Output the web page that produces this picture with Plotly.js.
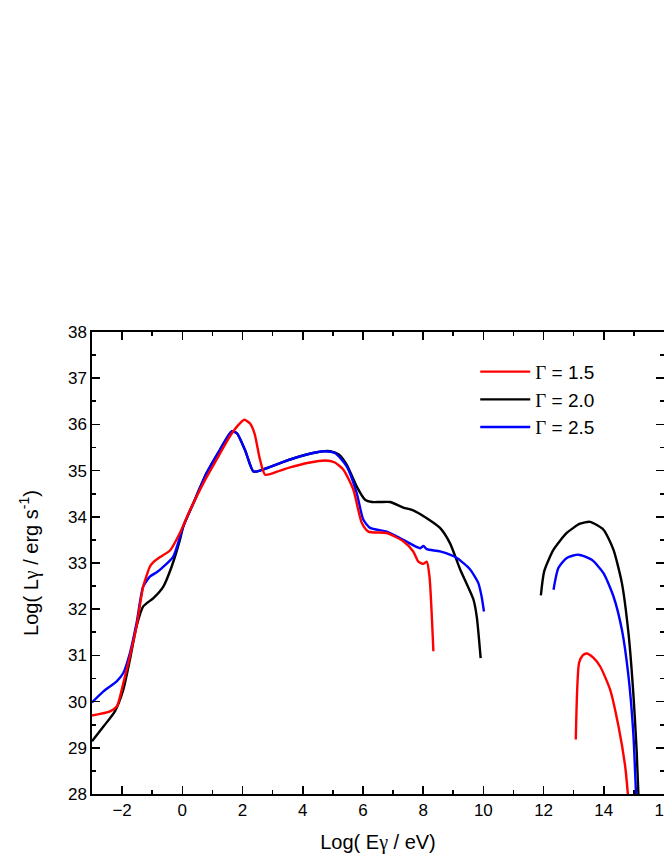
<!DOCTYPE html>
<html>
<head>
<meta charset="utf-8">
<script src="https://cdn.plot.ly/plotly-3.0.1.min.js"></script>
<style>html,body{margin:0;padding:0;background:#fff;overflow:hidden;}#wrap{width:664px;height:860px;overflow:hidden;}#chart{width:690px;height:860px;}</style>
</head>
<body>
<div id="wrap"><div id="chart"></div></div>
<script>
// Gamma = 1.5 (red)
const red1X = [-3, -2.4, -2.17, -1.96, -1.74, -1.52, -1.30, -1.07, -0.96, -0.74, -0.41, -0.08, 0.26, 0.70, 1.14, 1.58, 1.85, 2.06, 2.25, 2.40, 2.58, 2.75, 3.25, 3.58, 4.20, 4.75, 5.05, 5.35, 5.68, 5.96, 6.18, 6.79, 7.34, 7.67, 7.84, 8.01, 8.12, 8.21, 8.34];
const red1Y = [29.70, 29.79, 29.90, 30.40, 30.98, 31.63, 32.49, 32.93, 33.02, 33.13, 33.27, 33.65, 34.15, 34.73, 35.24, 35.74, 35.98, 36.10, 36.02, 35.80, 35.24, 34.91, 35.00, 35.07, 35.17, 35.22, 35.18, 35.02, 34.59, 33.87, 33.68, 33.65, 33.47, 33.25, 33.03, 32.98, 33.03, 32.71, 31.09];
const red2X = [13.07, 13.18, 13.30, 13.43, 13.65, 13.88, 14.21, 14.49, 14.71, 14.80];
const red2Y = [29.18, 30.84, 31.00, 31.04, 30.95, 30.76, 30.26, 29.46, 28.60, 28.00];

// Gamma = 2.0 (black)
const blk1X = [-3, -2.62, -2.24, -1.96, -1.74, -1.52, -1.30, -0.96, -0.63, -0.35, -0.08, 0.03, 0.37, 0.81, 1.25, 1.64, 1.81, 2.08, 2.36, 2.58, 3.25, 3.58, 4.20, 4.70, 4.91, 5.20, 5.46, 5.79, 6.07, 6.30, 6.57, 6.90, 7.34, 7.67, 8.12, 8.56, 8.89, 9.23, 9.67, 9.78, 9.91];
const blk1Y = [29.14, 29.46, 29.79, 30.26, 30.91, 31.63, 32.06, 32.24, 32.49, 32.93, 33.50, 33.79, 34.30, 34.95, 35.45, 35.85, 35.81, 35.45, 34.98, 35.00, 35.16, 35.24, 35.36, 35.42, 35.42, 35.35, 35.13, 34.66, 34.37, 34.32, 34.32, 34.32, 34.20, 34.14, 33.97, 33.76, 33.43, 32.86, 32.21, 31.84, 30.94];
const blk2X = [11.91, 12.02, 12.33, 12.77, 13.21, 13.54, 13.99, 14.32, 14.60, 14.82, 14.98, 15.09, 15.15];
const blk2Y = [32.30, 32.82, 33.29, 33.65, 33.85, 33.89, 33.72, 33.29, 32.57, 31.48, 30.19, 28.96, 28.00];

// Gamma = 2.5 (blue)
const blu1X = [-3, -2.62, -2.18, -1.96, -1.74, -1.52, -1.30, -1.07, -0.85, -0.68, -0.30, 0.03, 0.37, 0.81, 1.25, 1.64, 1.81, 2.08, 2.36, 2.58, 3.25, 3.58, 4.20, 4.68, 5.07, 5.46, 5.79, 6.01, 6.24, 6.79, 7.34, 7.90, 8.01, 8.12, 8.56, 9.12, 9.56, 9.83, 9.94, 10.02];
const blu1Y = [29.98, 30.22, 30.44, 30.62, 31.05, 31.70, 32.49, 32.71, 32.80, 32.89, 33.14, 33.79, 34.30, 34.95, 35.45, 35.85, 35.81, 35.45, 34.98, 35.00, 35.16, 35.24, 35.36, 35.42, 35.38, 35.09, 34.52, 33.94, 33.76, 33.68, 33.50, 33.32, 33.37, 33.30, 33.25, 33.11, 32.86, 32.57, 32.28, 31.95];
const blu2X = [12.33, 12.49, 12.77, 13.16, 13.60, 13.99, 14.32, 14.60, 14.82, 14.98, 15.07];
const blu2Y = [32.42, 32.89, 33.11, 33.18, 33.07, 32.78, 32.28, 31.56, 30.55, 29.32, 28.00];

const G = '<span style="font-family:\'Liberation Serif\'">Γ</span>';
const seriesNames = [G + ' = 1.5', G + ' = 2.0', G + ' = 2.5'];
const colors = ['#ff0000', '#000000', '#0000ff'];

function tr(x, y, i, show) {
  return {x: x, y: y, type: 'scatter', mode: 'lines', name: seriesNames[i], legendgroup: 'g' + i,
    showlegend: show, line: {color: colors[i], width: 2.4, shape: 'spline', smoothing: 0.6}};
}
const data = [
  tr(blk1X, blk1Y, 1, false), tr(blk2X, blk2Y, 1, false),
  tr(blu1X, blu1Y, 2, false), tr(blu2X, blu2Y, 2, false),
  tr(red1X, red1Y, 0, false), tr(red2X, red2Y, 0, false),
  tr([-10], [0], 0, true),
  tr([-10], [0], 1, true),
  tr([-10], [0], 2, true)
];

const axBase = {showline: true, linecolor: '#000', linewidth: 1.6, mirror: 'allticks', ticks: 'inside',
  ticklen: 8, tickwidth: 1.6, tickcolor: '#000', showgrid: false, zeroline: false,
  ticklabeloverflow: 'allow',
  tickfont: {family: 'Liberation Sans, Arial', size: 17, color: '#000'}};

const layout = {
  width: 690, height: 860,
  margin: {l: 92, r: 26, t: 332, b: 66},
  paper_bgcolor: '#fff', plot_bgcolor: '#fff',
  showlegend: true,
  legend: {x: 0.67, y: 0.955, xanchor: 'left', yanchor: 'top', bgcolor: 'rgba(0,0,0,0)',
    font: {family: 'Liberation Sans, Arial', size: 19, color: '#000'}, tracegroupgap: 0, itemwidth: 50},
  xaxis: Object.assign({}, axBase, {range: [-3, 16], dtick: 2, tick0: 0,
    minor: {dtick: 1, ticks: 'inside', ticklen: 4, tickwidth: 1.6, tickcolor: '#000'},
    title: {text: 'Log( E<span style="font-family:\'Liberation Serif\'">γ</span> / eV)', standoff: 16,
      font: {family: 'Liberation Sans, Arial', size: 20, color: '#000'}}}),
  yaxis: Object.assign({}, axBase, {range: [28, 38], dtick: 1, tick0: 0,
    minor: {dtick: 0.5, ticks: 'inside', ticklen: 4, tickwidth: 1.6, tickcolor: '#000'},
    title: {text: 'Log( L<span style="font-family:\'Liberation Serif\'">γ</span> / erg s<sup>-1</sup>)', standoff: 24,
      font: {family: 'Liberation Sans, Arial', size: 20, color: '#000'}}})
};

Plotly.newPlot('chart', data, layout, {displayModeBar: false, staticPlot: true});
</script>
</body>
</html>
